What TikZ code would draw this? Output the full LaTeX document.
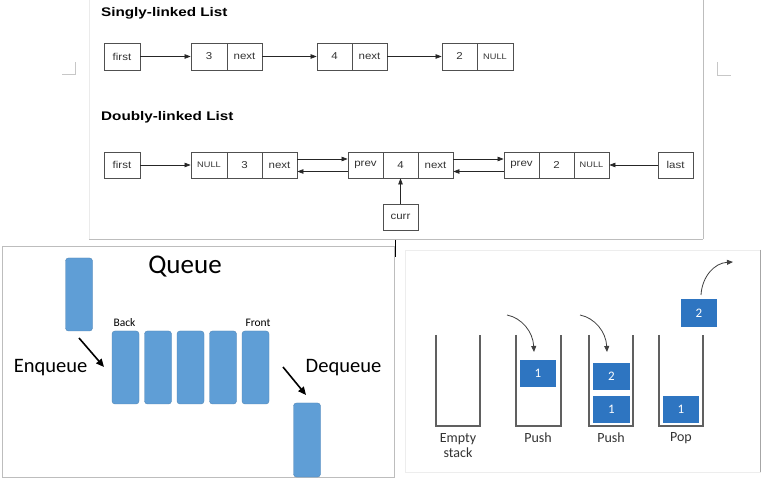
\documentclass[tikz,border=0pt]{standalone}
\usepackage{graphicx}
\usepackage{fontspec}
\setmainfont{Liberation Sans}
\newfontfamily\calib{Carlito}
\usetikzlibrary{arrows.meta,calc}
\definecolor{qblue}{HTML}{5F9ED6}
\definecolor{sblue}{HTML}{2E75C1}
\definecolor{frm}{HTML}{BDBDBD}
\definecolor{cellline}{HTML}{505050}
\newcommand{\cellfont}{\fontsize{10}{12}\selectfont}
\newcommand{\hs}[1]{\scalebox{1.15}[1]{#1}}
\newcommand{\ttl}[1]{\scalebox{1.22}[1]{\fontsize{12.5}{14}\selectfont\bfseries #1}}
\begin{document}
\begin{tikzpicture}[x=1pt,y=-1pt,
  cell/.style={draw=cellline, line width=0.8pt, minimum height=27pt, inner sep=0pt, font=\cellfont, text=black!80},
  lnk/.style={-{Triangle[length=6pt,width=4.5pt]}, line width=0.7pt, draw=black!85},
  qbar/.style={fill=qblue, draw=qblue!85!black, line width=0.4pt, rounded corners=3pt, minimum width=27pt, inner sep=0pt},
  sbox/.style={fill=sblue, minimum width=36pt, minimum height=27pt, inner sep=0pt, text=white, font=\calib\fontsize{13}{15}\selectfont},
  stk/.style={draw=gray!75!black, line width=1.1pt},
  bigarr/.style={-{Triangle[length=8pt,width=7pt]}, line width=1.6pt},
  curarr/.style={-{Triangle[length=6pt,width=5pt]}, line width=0.8pt, draw=black!75},
  slabel/.style={font=\calib\fontsize{14}{16}\selectfont, text=black!80, align=center, inner sep=0pt},
  frame/.style={draw=frm, line width=0.8pt}
]
\useasboundingbox (0,0) rectangle (777,486);
\fill[white] (0,0) rectangle (777,486);

% ---------- top panel frame ----------
\draw[draw=black!8, line width=0.6pt] (89,0) -- (89,239);
\draw[frame] (89,239) -- (703,239);
\draw[frame] (703,0) -- (703,239);
\draw[draw=black!22, line width=0.8pt] (62,74) -- (75,74) -- (75,62);
\draw[draw=black!22, line width=0.8pt] (717,62) -- (717,75) -- (731,75);

% ---------- singly-linked list ----------
\node[anchor=west, inner sep=0pt] (t1) at (101,13) {\ttl{Singly-linked List}};
\node[cell, minimum width=36pt] (sf) at (122,56.5) {\hs{first}};
\node[cell, minimum width=36pt] (s3) at (209,56.5) {\hs{3}};
\node[cell, minimum width=35pt] (s3n) at (244.5,56.5) {\hs{next}};
\node[cell, minimum width=35pt] (s4) at (334.5,56.5) {\hs{4}};
\node[cell, minimum width=35pt] (s4n) at (369.5,56.5) {\hs{next}};
\node[cell, minimum width=35pt] (s2) at (459.5,56.5) {\hs{2}};
\node[cell, minimum width=36pt, font=\fontsize{8}{10}\selectfont] (s2n) at (495,56.5) {\hs{NULL}};
\draw[lnk] (sf.east) -- (s3.west);
\draw[lnk] (s3n.east) -- (s4.west);
\draw[lnk] (s4n.east) -- (s2.west);

% ---------- doubly-linked list ----------
\node[anchor=west, inner sep=0pt] (t2) at (101,117) {\ttl{Doubly-linked List}};
\node[cell, minimum width=36pt, minimum height=26pt] (df) at (122,165) {\hs{first}};
\node[cell, minimum width=36pt, minimum height=26pt, font=\fontsize{8}{10}\selectfont] (d1a) at (209,165) {\hs{NULL}};
\node[cell, minimum width=35pt, minimum height=26pt] (d1b) at (244.5,165) {\hs{3}};
\node[cell, minimum width=35pt, minimum height=26pt] (d1c) at (279.5,165) {\hs{next}};
\node[cell, minimum width=35pt, minimum height=26pt] (d2a) at (365.5,165) {\hs{prev}};
\node[cell, minimum width=35pt, minimum height=26pt] (d2b) at (400.5,165) {\hs{4}};
\node[cell, minimum width=35pt, minimum height=26pt] (d2c) at (435.5,165) {\hs{next}};
\node[cell, minimum width=35pt, minimum height=26pt] (d3a) at (521.5,165) {\hs{prev}};
\node[cell, minimum width=35pt, minimum height=26pt] (d3b) at (556.5,165) {\hs{2}};
\node[cell, minimum width=35pt, minimum height=26pt, font=\fontsize{8}{10}\selectfont] (d3c) at (591.5,165) {\hs{NULL}};
\node[cell, minimum width=35pt, minimum height=26pt] (dl) at (675.5,165) {\hs{last}};
\node[cell, minimum width=35pt, minimum height=26pt] (dc) at (400.5,217) {\hs{curr}};
\draw[lnk] (df.east) -- (d1a.west);
\draw[lnk] ([yshift=6pt]d1c.east) -- ([yshift=6pt]d2a.west);
\draw[lnk] ([yshift=-6.5pt]d2a.west) -- ([yshift=-6.5pt]d1c.east);
\draw[lnk] ([yshift=6pt]d2c.east) -- ([yshift=6pt]d3a.west);
\draw[lnk] ([yshift=-6.5pt]d3a.west) -- ([yshift=-6.5pt]d2c.east);
\draw[lnk] (dl.west) -- (d3c.east);
\draw[lnk] (dc.north) -- (d2b.south);

% ---------- queue panel ----------
\draw[frame] (2,246) rectangle (394,477);
\draw[black, line width=1.5pt] (395.5,240) -- (395.5,257);
\node[font=\calib\fontsize{27}{30}\selectfont, inner sep=0pt] (qt) at (185,267) {Queue};
\node[qbar, minimum height=73pt] (qin) at (79,294.5) {};
\node[qbar, minimum height=73pt] (q1) at (125.5,367.5) {};
\node[qbar, minimum height=73pt] (q2) at (158,367.5) {};
\node[qbar, minimum height=73pt] (q3) at (190.5,367.5) {};
\node[qbar, minimum height=73pt] (q4) at (223,367.5) {};
\node[qbar, minimum height=73pt] (q5) at (255.5,367.5) {};
\node[qbar, minimum height=74pt] (qout) at (307,440) {};
\node[font=\calib\fontsize{11.5}{13}\selectfont, inner sep=0pt] (back) at (124.5,323) {Back};
\node[font=\calib\fontsize{11.5}{13}\selectfont, inner sep=0pt] (front) at (258,323) {Front};
\node[font=\calib\fontsize{20.5}{23}\selectfont, inner sep=0pt] (enq) at (50.5,368) {Enqueue};
\node[font=\calib\fontsize{20.5}{23}\selectfont, inner sep=0pt] (deq) at (343.5,368) {Dequeue};
\coordinate (ea) at (79,338);
\coordinate (eb) at (104,367);
\coordinate (da) at (283,367);
\coordinate (db) at (306,395);
\draw[bigarr] (ea) -- (eb);
\draw[bigarr] (da) -- (db);

% ---------- stack panel ----------
\draw[draw=black!7, line width=0.6pt] (405,250) rectangle (760,472);
\draw[draw=black!35, line width=1pt] (760,250) -- (760,472);
\draw[stk] (436,335) -- (436,426) -- (480,426) -- (480,335);
\draw[stk] (516,335) -- (516,426) -- (561,426) -- (561,335);
\draw[stk] (589,335) -- (589,426) -- (633,426) -- (633,335);
\draw[stk] (659,335) -- (659,426) -- (703,426) -- (703,335);
\node[sbox] (b21) at (538,373.5) {1};
\node[sbox, minimum width=37pt] (b32) at (611.5,376.5) {2};
\node[sbox, minimum width=37pt] (b31) at (611.5,409.5) {1};
\node[sbox] (b41) at (681,409.5) {1};
\node[sbox, minimum height=28pt] (pop) at (699,313) {2};
\coordinate (p1a) at (507,315);
\coordinate (p1b) at (534,352);
\coordinate (p2a) at (580,315);
\coordinate (p2b) at (607,352);
\coordinate (p3a) at (701,295);
\coordinate (p3b) at (733,262);
\draw[curarr] (p1a) .. controls (522,318) and (533,332) .. (p1b);
\draw[curarr] (p2a) .. controls (595,318) and (606,332) .. (p2b);
\draw[curarr] (p3a) .. controls (702,277) and (714,263) .. (p3b);
\node[slabel] (l1) at (458,445.5) {Empty\\[-1pt]stack};
\node[slabel] (l2) at (538,438) {Push};
\node[slabel] (l3) at (611,438) {Push};
\node[slabel] (l4) at (681,438) {Pop};
\end{tikzpicture}
\end{document}
